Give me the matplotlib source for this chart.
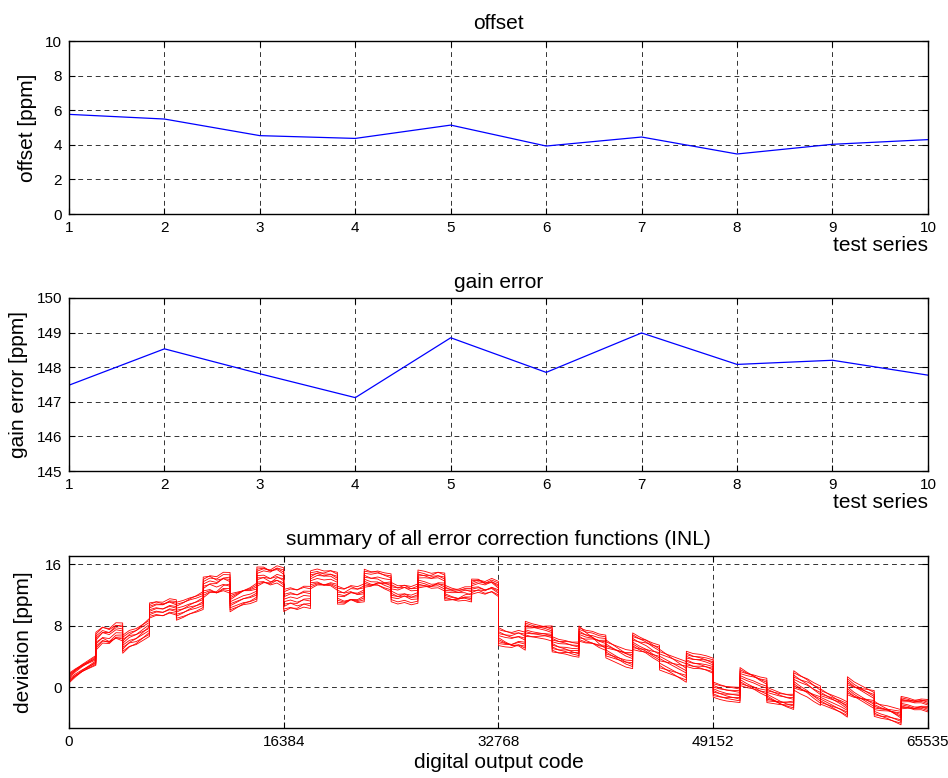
import numpy as np
import matplotlib
matplotlib.use('Agg')
import matplotlib.pyplot as plt

plt.rcParams['font.family'] = ['Liberation Sans', 'DejaVu Sans']

# offset and gain error of the ten test series
series = list(range(1, 11))
offset_ppm = [5.76, 5.49, 4.53, 4.37, 5.14, 3.93, 4.45, 3.47, 4.03, 4.30]
gain_ppm = [147.48, 148.53, 147.81, 147.12, 148.85, 147.85, 148.99, 148.08, 148.20, 147.77]

# INL: 32 segments of 2048 codes, centre level at 5 points inside each segment
seg_len = 2048
inl_centre = [
    [1.2, 1.9, 2.5, 3.0, 3.5],
    [6.0, 6.8, 6.6, 7.3, 7.2],
    [5.6, 6.3, 6.6, 7.2, 7.8],
    [10.0, 10.3, 10.2, 10.6, 10.4],
    [9.9, 10.2, 10.6, 10.9, 11.3],
    [13.0, 13.4, 13.2, 13.7, 13.6],
    [11.0, 11.4, 11.8, 12.0, 12.4],
    [14.4, 14.6, 14.3, 14.7, 14.3],
    [11.3, 11.6, 11.4, 11.8, 11.7],
    [14.0, 14.3, 14.1, 14.2, 13.8],
    [12.0, 11.8, 12.2, 12.0, 12.3],
    [14.2, 14.0, 14.1, 13.8, 13.6],
    [12.4, 12.1, 12.3, 12.0, 12.2],
    [14.1, 14.0, 13.8, 14.0, 13.7],
    [12.3, 12.1, 12.0, 12.2, 12.1],
    [13.1, 13.3, 13.0, 13.3, 12.8],
    [6.6, 6.3, 6.1, 6.3, 6.0],
    [7.6, 7.4, 7.3, 7.2, 7.0],
    [5.6, 5.3, 5.2, 5.0, 4.9],
    [7.0, 6.6, 6.4, 6.0, 5.8],
    [5.0, 4.6, 4.2, 3.8, 3.6],
    [6.0, 5.6, 5.3, 4.8, 4.4],
    [3.6, 3.2, 2.8, 2.4, 2.0],
    [3.7, 3.4, 3.3, 3.1, 2.8],
    [-0.3, -0.6, -0.8, -0.9, -1.0],
    [1.4, 1.0, 0.7, 0.3, 0.0],
    [-1.0, -1.3, -1.6, -1.8, -1.9],
    [0.9, 0.4, 0.0, -0.6, -1.1],
    [-1.2, -1.6, -2.0, -2.4, -2.9],
    [0.2, -0.4, -0.8, -1.2, -1.6],
    [-2.8, -3.1, -3.3, -3.6, -3.9],
    [-2.0, -2.1, -2.3, -2.2, -2.4],
]
# half width of the bundle in each segment
inl_spread = [0.7, 1.3, 1.3, 1.1, 1.3, 1.5, 1.3, 1.4, 1.6, 1.3, 1.3, 1.3, 1.4, 1.3, 1.1, 1.1,
              1.3, 1.1, 1.1, 1.1, 1.3, 1.2, 1.5, 1.1, 1.1, 1.3, 1.1, 1.4, 1.1, 1.3, 1.1, 0.9]
# where each of the 10 curves sits inside the bundle (-9 .. 9), at segment start ...
inl_pos_start = [
    [9, 7, 5, 3, 1, -1, 3, 9, -9, 5, 7, 3, -3, 1, 9, 5, -7, 3, 1, -5, 7, 3, -1, 5, -3, 9, 1, -7, 3, 5, -1, 7],
    [-9, -5, -7, -3, -1, 1, -3, -5, 7, -7, -1, -5, 3, -3, -5, -1, 5, -3, -9, 1, -7, -5, 9, -1, 7, -3, -5, 3, -7, -1, 5, -3],
    [5, 3, 7, 9, 5, 7, 9, 3, -5, 9, 5, 7, -1, 5, 3, 7, -3, 7, 5, -3, 3, 9, -5, 7, -7, 5, 7, -1, 5, 9, -5, 3],
    [-5, -7, -9, -7, -5, -3, -5, -3, 3, -3, -7, -1, 5, -7, -3, -5, 9, -7, -3, 5, -3, -1, 7, -5, 5, -7, -3, 7, -5, -3, 1, -7],
    [1, 9, 3, 1, 7, 9, 5, 1, -1, 3, 9, 1, -5, 3, 7, 1, -5, 1, 7, -1, 9, 5, -7, 3, -1, 7, 9, -3, 1, 7, -7, 5],
    [-1, -3, -1, -5, -9, -7, -1, -7, 9, -9, -3, -7, 7, -5, -7, -7, 3, -5, -7, 7, -5, -9, 5, -3, 9, -5, -9, 5, -9, -5, 7, -1],
    [3, 5, 9, 7, 3, 5, 7, 5, -3, 7, 3, 9, 1, 9, 5, 3, -9, 9, 3, -7, 1, 7, -3, 9, -5, 3, 5, -5, 7, 3, -3, 9],
    [-3, -1, -3, -9, -7, -9, -7, -1, 5, -1, -9, -3, 9, -1, -1, -3, 7, -1, -5, 3, -1, -3, 3, -7, 3, -1, -1, 1, -3, -7, 3, -5],
    [7, 1, 1, 5, 9, 3, 1, 7, 1, 1, 1, 5, -7, 7, 1, 9, 1, 5, 9, -9, 5, 1, -9, 1, 1, 1, 3, -9, 9, 1, -9, 1],
    [-7, -9, -5, -1, -3, -5, -9, -9, -7, -5, -5, -9, -9, -9, -9, -9, -1, -9, -1, 9, -9, -7, 1, -9, -9, -9, -7, 9, -1, -9, 9, -9],
]
# ... and at segment end
inl_pos_end = [
    [3, 9, -1, 7, -3, 5, 9, 3, -5, 1, 9, -3, 1, 5, 3, 9, -1, 7, -5, 3, 9, -1, 5, 7, 1, 3, -5, -1, 7, 1, 5, 3],
    [-3, -7, -9, -5, 3, -3, -1, -9, 9, -5, 3, -7, 7, -7, -9, -5, 1, -5, -3, 5, -3, -9, 3, -5, 9, -7, -1, 7, -3, -5, 1, -7],
    [9, 1, 5, 3, 9, 9, 3, 7, -1, 7, -1, 9, -5, 1, 7, 3, -7, 3, 9, -9, 5, 5, -9, 3, -3, 9, 3, -5, 1, 7, -9, 9],
    [-7, -3, -5, -9, -1, -9, -7, 1, 5, -9, -5, -5, 9, -3, -5, -9, 5, -9, -7, 7, -7, -5, 9, -9, 3, -3, -7, 9, -9, -7, 7, -3],
    [5, 5, 9, -1, 5, 1, 7, -3, -3, 9, 5, 3, -1, 9, -1, 5, -3, 9, 3, 1, 3, 9, -3, 1, -5, 5, 7, -7, 5, 3, -3, 1],
    [-5, -1, -3, -3, -7, -5, -3, -5, 7, -3, -9, -1, 3, -9, -3, -1, 7, -1, -9, 9, -1, -3, 7, -1, 7, -9, -3, 1, -7, -9, 9, -5],
    [7, 3, 7, 9, 1, 7, 5, 9, -7, 3, 7, 5, -3, 7, 9, 7, -5, 5, 5, -5, 7, 3, -5, 9, -7, 7, 9, -3, 9, 5, -5, 5],
    [-9, -9, -7, -7, -9, -1, -9, -7, 3, -1, -3, -9, 5, -5, -7, -3, 9, -3, -1, -1, -5, -7, 1, -3, 5, -1, -9, 3, -5, -3, 3, -9],
    [1, 7, 3, 5, 7, 3, 1, 5, 1, 5, 1, 7, -7, 3, 5, 1, 3, 1, 7, -3, 1, 7, -7, 5, -1, 1, 5, -9, 3, 9, -7, 7],
    [-1, -5, 1, 1, -5, -7, -5, -1, -9, -7, -7, 1, -9, -1, 1, -7, -9, -3, 1, -7, -9, 1, -1, -7, -9, -5, 1, 5, -1, -1, -1, -1],
]
code_ticks = [0, 16384, 32768, 49152, 65535]

fig = plt.figure(figsize=(9.48, 7.78), dpi=100)
ax1 = fig.add_axes([0.0728, 0.7249, 0.906, 0.2224])
ax2 = fig.add_axes([0.0728, 0.3946, 0.906, 0.2224])
ax3 = fig.add_axes([0.0728, 0.0643, 0.906, 0.2211])

grid_kw = dict(color='black', linestyle=(0, (5, 4)), linewidth=0.7, alpha=0.8)


def style(ax):
    ax.grid(True, **grid_kw)
    ax.tick_params(direction='in', top=True, right=True, length=4, labelsize=11, pad=5)
    for s in ax.spines.values():
        s.set_linewidth(1.0)


ax1.plot(series, offset_ppm, color='blue', linewidth=0.9)
ax1.set_xlim(1, 10)
ax1.set_ylim(0, 10)
ax1.set_xticks(series)
ax1.set_yticks([0, 2, 4, 6, 8, 10])
ax1.set_title('offset', fontsize=15, pad=9)
ax1.set_ylabel('offset [ppm]', fontsize=15, labelpad=6)
ax1.set_xlabel('test series', fontsize=15, loc='right', labelpad=1)
style(ax1)

ax2.plot(series, gain_ppm, color='blue', linewidth=0.9)
ax2.set_xlim(1, 10)
ax2.set_ylim(145, 150)
ax2.set_xticks(series)
ax2.set_yticks([145, 146, 147, 148, 149, 150])
ax2.set_title('gain error', fontsize=15, pad=7)
ax2.set_ylabel('gain error [ppm]', fontsize=15, labelpad=6)
ax2.set_xlabel('test series', fontsize=15, loc='right', labelpad=1)
style(ax2)

fracs = [0.0, 0.25, 0.5, 0.75, 1.0]
for p0, p1 in zip(inl_pos_start, inl_pos_end):
    xs, ys = [], []
    for k, levels in enumerate(inl_centre):
        for f, lev in zip(fracs, levels):
            pos = ((1 - f) * p0[k] + f * p1[k]) / 10.0
            xs.append(k * seg_len + f * (seg_len - 1))
            ys.append(lev + inl_spread[k] * pos)
    ax3.plot(xs, ys, color='red', linewidth=0.6)
ax3.set_xlim(0, 65535)
ax3.set_ylim(-5.3, 17.1)
ax3.set_xticks(code_ticks)
ax3.set_yticks([0, 8, 16])
ax3.set_title('summary of all error correction functions (INL)', fontsize=15, pad=8)
ax3.set_ylabel('deviation [ppm]', fontsize=15, labelpad=9)
ax3.set_xlabel('digital output code', fontsize=15, labelpad=3)
style(ax3)

fig.savefig('out.png', dpi=100)
